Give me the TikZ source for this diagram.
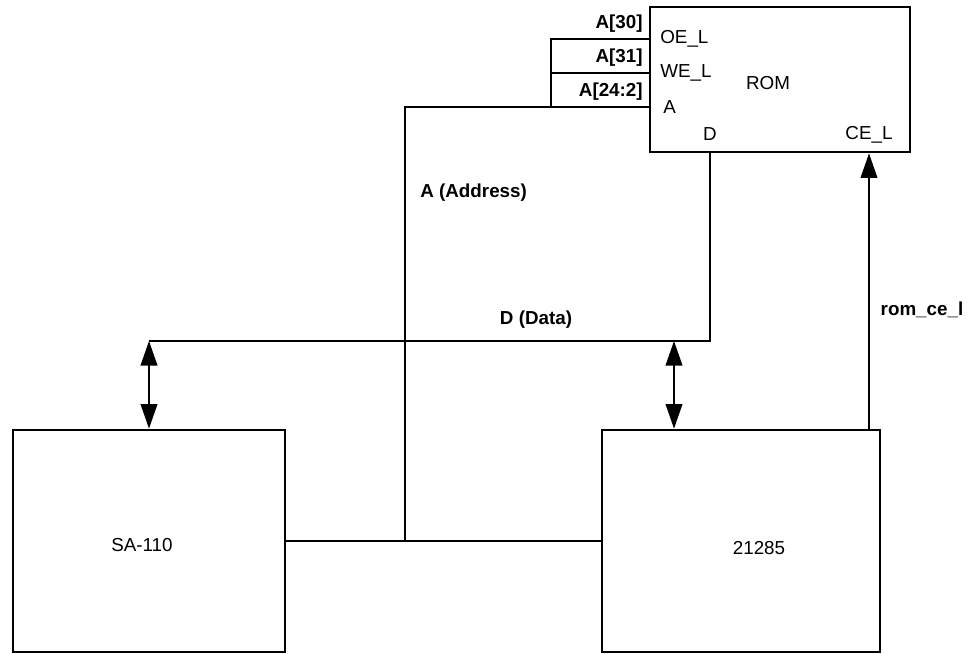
\documentclass[tikz,border=0pt]{standalone}
\usepackage{fontspec}
\setmainfont{Liberation Sans}
\usetikzlibrary{arrows.meta}
\tikzset{
	blk/.style={draw, line width=1.6pt, inner sep=0pt},
	pinlbl/.style={font=\fontsize{10.7}{12}\selectfont, inner sep=0pt},
	siglbl/.style={font=\fontsize{10.7}{12}\selectfont\bfseries, inner sep=0pt},
	wire/.style={line width=1pt},
	onearrow/.style={-{Triangle[length=14pt,width=9.5pt]}},
	twoarrow/.style={{Triangle[length=14pt,width=9.5pt]}-{Triangle[length=14pt,width=9.5pt]}},
}

\begin{document}
\begin{tikzpicture}[x=0.02cm,y=-0.02cm]
		%%%%% START %%%%%
		\useasboundingbox (0,0) rectangle (967,653);
		
		% blocks
		\node[blk, minimum width=5.2cm, minimum height=2.9cm] (rom) at (780,79.5) {};
		\node[blk, minimum width=5.44cm, minimum height=4.44cm] (sa) at (149,541) {};
		\node[blk, minimum width=5.56cm, minimum height=4.44cm] (chip) at (741,541) {};
		
		\node[pinlbl] (romlbl) at (768,83) {ROM};
		\node[pinlbl, anchor=west] (oel) at (660,39) {OE\_L};
		\node[pinlbl, anchor=west] (wel) at (660,73) {WE\_L};
		\node[pinlbl, anchor=west] (apin) at (663,107) {A};
		\node[pinlbl] (dpin) at (710,134) {D};
		\node[pinlbl] (cel) at (869,135) {CE\_L};
		\node[pinlbl] (salbl) at (142,545) {SA-110};
		\node[pinlbl] (chiplbl) at (759,548) {21285};
		
		% signal names
		\node[siglbl, anchor=east] (a30) at (643,24) {A[30]};
		\node[siglbl, anchor=east] (a31) at (643,58) {A[31]};
		\node[siglbl, anchor=east] (a242) at (643,92) {A[24:2]};
		\node[siglbl, anchor=west] (addr) at (420,193) {A (Address)};
		\node[siglbl] (data) at (536,320) {D (Data)};
		\node[siglbl] (ce) at (922,310) {rom\_ce\_l};
		
		% address
		\coordinate (abus) at (405,107);
		\coordinate (abr) at (551,107);
		\coordinate (ajoin) at (405,541);
		\draw[wire] (sa.east) -- (chip.west);
		\draw[wire] (ajoin) -- (abus) -- (rom.west |- abus);
		\draw[wire] (abr) |- (rom.west |- oel);
		\draw[wire] (abr |- wel) -- (rom.west |- wel);
		
		% data
		\coordinate (dturn) at (710,341);
		\coordinate (dleft) at (sa.north |- dturn);
		\coordinate (dright) at (674,341);
		\draw[wire] (rom.south -| dpin) -- (dturn) -- (dleft);
		\draw[wire, twoarrow] (dleft) -- (sa.north);
		\draw[wire, twoarrow] (dright) -- (chip.north -| dright);
		
		% chip enable
		\draw[wire, onearrow] (chip.north -| cel) -- (rom.south -| cel);
		%%%%% END %%%%%
	\end{tikzpicture}
\end{document}
